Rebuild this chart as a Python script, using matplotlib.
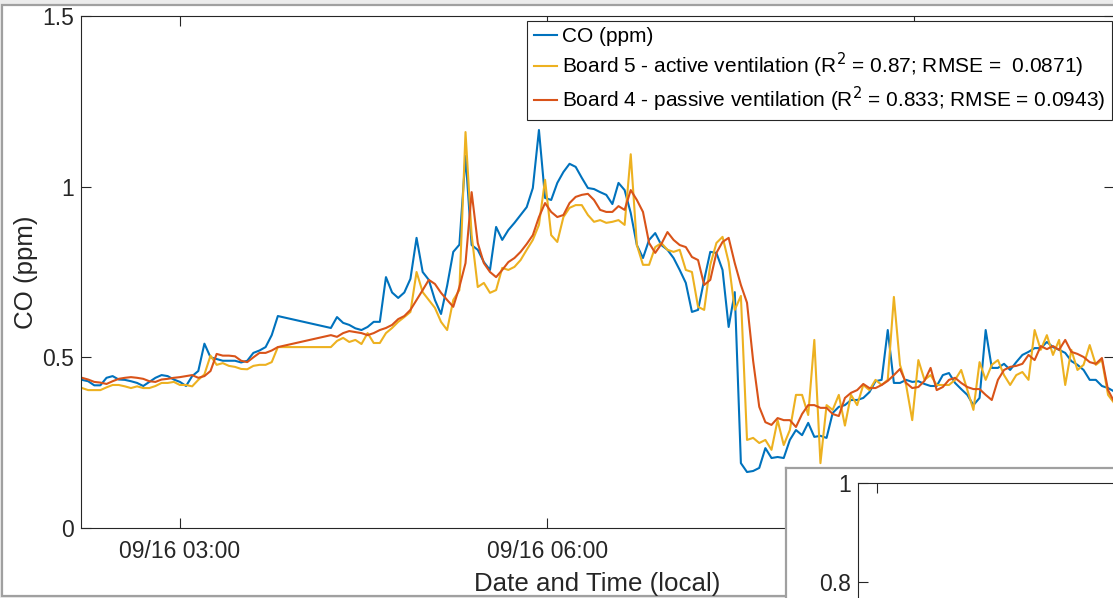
import matplotlib
matplotlib.use("Agg")
import matplotlib.pyplot as plt
import matplotlib.dates as mdates
from matplotlib.patches import Rectangle
import pandas as pd

plt.rcParams['font.family'] = ['Liberation Sans', 'DejaVu Sans']

# time stamps (3 min records); no data between 03:48 and 04:14
times_a = pd.date_range('2021-09-16 02:12', periods=33, freq='3min')
times_b = pd.date_range('2021-09-16 04:14', periods=129, freq='3min')

# CO reference (ppm)
co_a = [0.434, 0.43, 0.418, 0.418, 0.44, 0.445, 0.435, 0.434, 0.43, 0.425,
        0.416, 0.428, 0.44, 0.448, 0.445, 0.435, 0.428, 0.416, 0.445, 0.46,
        0.54, 0.50, 0.495, 0.49, 0.49, 0.49, 0.485, 0.49, 0.513, 0.52,
        0.53, 0.565, 0.621]
co_b = [0.586, 0.618, 0.601, 0.595, 0.585, 0.580, 0.589, 0.604, 0.604, 0.735,
        0.69, 0.674, 0.69, 0.73, 0.85, 0.75, 0.727, 0.668, 0.627, 0.71,
        0.809, 0.83, 1.09, 0.829, 0.815, 0.779, 0.756, 0.882, 0.844, 0.873,
        0.894, 0.917, 0.940, 0.996, 1.166, 0.967, 0.961, 1.011, 1.043, 1.067,
        1.058, 1.026, 0.996, 0.993, 0.984, 0.976, 0.949, 1.011, 0.990, 0.923,
        0.829, 0.791, 0.844, 0.864, 0.829, 0.815, 0.791, 0.756, 0.718, 0.633,
        0.639, 0.727, 0.809, 0.806, 0.756, 0.589, 0.691, 0.19, 0.164, 0.167,
        0.176, 0.234, 0.205, 0.208, 0.205, 0.258, 0.287, 0.272, 0.308, 0.267,
        0.27, 0.264, 0.337, 0.355, 0.36, 0.375, 0.375, 0.381, 0.398, 0.43,
        0.434, 0.58, 0.425, 0.425, 0.434, 0.428, 0.43, 0.422, 0.416, 0.416,
        0.448, 0.454, 0.425, 0.407, 0.39, 0.36, 0.381, 0.58, 0.469, 0.469,
        0.481, 0.463, 0.486, 0.507, 0.516, 0.527, 0.527, 0.545, 0.53, 0.522,
        0.513, 0.489, 0.478, 0.463, 0.434, 0.434, 0.416, 0.41, 0.40]

# Board 5 - active ventilation
b5_a = [0.41, 0.404, 0.404, 0.404, 0.412, 0.419, 0.419, 0.415, 0.41, 0.415,
        0.41, 0.41, 0.416, 0.425, 0.425, 0.428, 0.419, 0.419, 0.415, 0.434,
        0.45, 0.505, 0.478, 0.483, 0.475, 0.472, 0.466, 0.465, 0.475, 0.478,
        0.478, 0.486, 0.53]
b5_b = [0.53, 0.548, 0.557, 0.545, 0.551, 0.539, 0.571, 0.542, 0.542, 0.571,
        0.586, 0.604, 0.618, 0.633, 0.75, 0.691, 0.668, 0.645, 0.604, 0.58,
        0.668, 0.697, 1.16, 0.858, 0.706, 0.718, 0.689, 0.697, 0.762, 0.756,
        0.765, 0.785, 0.815, 0.844, 0.888, 1.02, 0.858, 0.838, 0.911, 0.938,
        0.946, 0.946, 0.917, 0.897, 0.902, 0.894, 0.897, 0.902, 0.888, 1.095,
        0.829, 0.771, 0.771, 0.823, 0.835, 0.815, 0.809, 0.815, 0.756, 0.75,
        0.648, 0.639, 0.771, 0.835, 0.853, 0.779, 0.639, 0.68, 0.258, 0.264,
        0.249, 0.258, 0.229, 0.316, 0.243, 0.287, 0.39, 0.39, 0.331, 0.551,
        0.19, 0.36, 0.346, 0.39, 0.30, 0.39, 0.36, 0.419, 0.404, 0.434,
        0.419, 0.434, 0.677, 0.478, 0.419, 0.316, 0.492, 0.434, 0.448, 0.419,
        0.419, 0.419, 0.434, 0.463, 0.404, 0.346, 0.486, 0.434, 0.478, 0.492,
        0.448, 0.419, 0.448, 0.457, 0.434, 0.58, 0.522, 0.565, 0.507, 0.551,
        0.419, 0.522, 0.463, 0.478, 0.536, 0.478, 0.492, 0.39, 0.366]

# Board 4 - passive ventilation
b4_a = [0.44, 0.435, 0.428, 0.426, 0.422, 0.43, 0.437, 0.44, 0.442, 0.44,
        0.437, 0.43, 0.428, 0.435, 0.437, 0.44, 0.442, 0.445, 0.448, 0.44,
        0.445, 0.46, 0.51, 0.505, 0.505, 0.503, 0.49, 0.486, 0.5, 0.513,
        0.513, 0.52, 0.53]
b4_b = [0.565, 0.56, 0.571, 0.577, 0.574, 0.571, 0.565, 0.571, 0.58, 0.586,
        0.595, 0.612, 0.621, 0.639, 0.668, 0.697, 0.727, 0.715, 0.689, 0.668,
        0.648, 0.706, 0.776, 0.984, 0.835, 0.776, 0.75, 0.735, 0.756, 0.779,
        0.791, 0.809, 0.832, 0.858, 0.911, 0.952, 0.926, 0.911, 0.917, 0.952,
        0.97, 0.976, 0.979, 0.961, 0.932, 0.926, 0.926, 0.943, 0.932, 0.99,
        0.961, 0.926, 0.835, 0.806, 0.832, 0.867, 0.844, 0.829, 0.823, 0.794,
        0.785, 0.712, 0.727, 0.806, 0.838, 0.85, 0.776, 0.712, 0.66, 0.49,
        0.355, 0.31, 0.302, 0.322, 0.316, 0.316, 0.296, 0.334, 0.36, 0.36,
        0.352, 0.352, 0.334, 0.328, 0.381, 0.396, 0.404, 0.422, 0.41, 0.41,
        0.419, 0.431, 0.448, 0.466, 0.425, 0.41, 0.413, 0.431, 0.469, 0.404,
        0.413, 0.434, 0.44, 0.425, 0.413, 0.407, 0.407, 0.39, 0.375, 0.434,
        0.463, 0.472, 0.475, 0.481, 0.507, 0.492, 0.533, 0.524, 0.533, 0.522,
        0.551, 0.516, 0.51, 0.501, 0.486, 0.481, 0.498, 0.404, 0.37]

labels = ['CO (ppm)',
          'Board 5 - active ventilation (R$^2$ = 0.87; RMSE =  0.0871)',
          'Board 4 - passive ventilation (R$^2$ = 0.833; RMSE = 0.0943)']
colors = ['#0072BD', '#EDB120', '#D95319']

t = times_a.append(times_b)
series = [co_a + co_b, b5_a + b5_b, b4_a + b4_b]

W, H = 1113, 598
fig = plt.figure(figsize=(W / 100, H / 100), dpi=100, facecolor='#ececec')

def px(x0, y0, x1, y1):
    return [x0 / W, 1 - y1 / H, (x1 - x0) / W, (y1 - y0) / H]

# window frame
fig.patches.append(Rectangle((2 / W, 1 - 596 / H), 1.2, 591 / H, transform=fig.transFigure,
                             facecolor='white', edgecolor='#a0a0a0', lw=1.6, zorder=-1))

ax = fig.add_axes(px(81, 16, 1113.5, 528))
ax.set_facecolor('white')
lines = []
for y, c, lab in zip(series, colors, labels):
    l, = ax.plot(t, y, color=c, lw=1.5, label=lab)
    lines.append(l)

ax.set_xlim(pd.Timestamp('2021-09-16 02:11:30'), pd.Timestamp('2021-09-16 10:37:40'))
ax.set_ylim(0, 1.5)
ax.set_yticks([0, 0.5, 1, 1.5])
ax.set_yticklabels(['0', '0.5', '1', '1.5'])
ax.xaxis.set_major_locator(mdates.HourLocator(byhour=[3, 6, 9]))
ax.xaxis.set_major_formatter(mdates.DateFormatter('%m/%d %H:%M'))
ax.tick_params(direction='in', length=7, width=0.8, top=True, right=True,
               labelsize=16.5, colors='#262626', pad=5)
ax.tick_params(axis='x', pad=9)
for s in ax.spines.values():
    s.set_color('#262626')
    s.set_linewidth(0.8)
ax.set_xlabel('Date and Time (local)', fontsize=18.6, color='#262626', labelpad=6)
ax.set_ylabel('CO (ppm)', fontsize=18.6, color='#262626', labelpad=3)

leg = ax.legend(lines, labels, loc='upper right', bbox_to_anchor=(1112 / W, 1 - 21 / H),
                bbox_transform=fig.transFigure, borderaxespad=0, fontsize=15,
                fancybox=False, framealpha=1, edgecolor='#262626', handlelength=1.1,
                handletextpad=0.28, labelspacing=0.22, borderpad=0.3)
leg.get_frame().set_linewidth(0.8)
for txt in leg.get_texts():
    txt.set_color('black')

# inset panel (partly cut off)
panel = fig.add_axes(px(786, 468, 1130, 640))
panel.set_facecolor('white')
panel.set_xticks([])
panel.set_yticks([])
for s in panel.spines.values():
    s.set_color('#a0a0a0')
    s.set_linewidth(1.6)

ins = fig.add_axes(px(858, 483, 1140, 700))
ins.set_facecolor('white')
ins.set_xlim(0, 1)
ins.set_ylim(1 - 217 * 0.2 / 99, 1)
ins.set_yticks([0.8, 1])
ins.set_yticklabels(['0.8', '1'])
ins.set_xticks([19 / 282])
ins.tick_params(direction='in', length=7, width=0.8, top=True, right=True,
                labelbottom=False, labelsize=16.5, colors='#262626', pad=5)
for s in ins.spines.values():
    s.set_color('#262626')
    s.set_linewidth(0.8)

fig.savefig('out.png', dpi=100, facecolor=fig.get_facecolor())
